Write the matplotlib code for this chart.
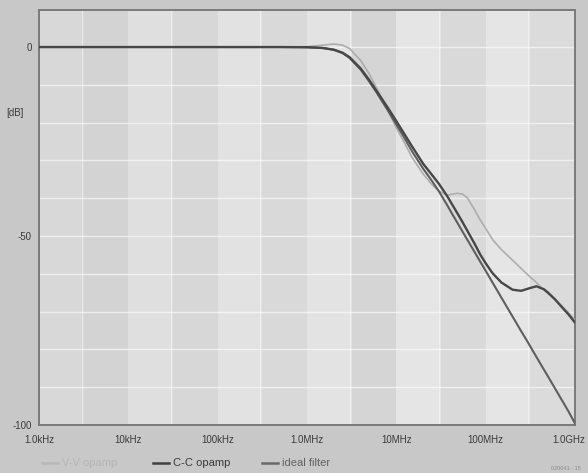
import numpy as np
import matplotlib
matplotlib.use("Agg")
import matplotlib.pyplot as plt
from matplotlib.lines import Line2D
from matplotlib.transforms import ScaledTranslation

plt.rcParams["font.family"] = ["Liberation Sans", "DejaVu Sans"]

# frequency points in MHz
freqs_mhz = [0.001, 0.01, 0.1, 0.5, 1, 1.5, 2, 2.5, 3, 4, 5, 6, 8, 10, 12, 15,
             20, 25, 30, 37, 43, 48, 55, 62, 75, 87, 100, 120, 150, 200, 250,
             300, 370, 450, 500, 600, 700, 850, 1000]

ideal_db = [0, 0, 0, 0, -0.05, -0.25, -0.75, -1.6, -2.9, -6.0, -9.2, -12.0,
            -16.7, -20.5, -23.6, -27.6, -32.2, -35.4, -38.2, -41.8, -44.5,
            -46.4, -48.8, -50.9, -54.2, -56.8, -59.2, -62.4, -66.3, -71.3,
            -75.2, -78.3, -82.0, -85.4, -87.2, -90.4, -93.1, -96.5, -99.6]

cc_db = [0, 0, 0, 0, -0.05, -0.25, -0.7, -1.5, -2.7, -5.7, -8.8, -11.6,
         -16.0, -19.6, -22.6, -26.3, -30.9, -33.8, -36.2, -39.4, -42.0,
         -43.9, -46.3, -48.5, -52.0, -54.9, -57.2, -59.9, -62.3, -64.2,
         -64.5, -63.9, -63.3, -64.1, -65.0, -66.8, -68.6, -70.8, -72.9]

vv_db = [0, 0, 0, 0, 0.1, 0.5, 0.8, 0.5, -0.4, -3.6, -7.2, -10.8, -16.6,
         -21.4, -24.8, -29.2, -33.6, -36.4, -38.1, -39.2, -38.9, -38.7,
         -38.9, -39.8, -43.0, -45.8, -48.0, -51.0, -53.6, -56.4, -58.6,
         -60.4, -62.3, -64.3, -65.3, -66.8, -68.3, -70.3, -72.3]

decades = [1e3, 1e4, 1e5, 1e6, 1e7, 1e8, 1e9]
decade_labels = ["1.0kHz", "10kHz", "100kHz", "1.0MHz", "10MHz", "100MHz", "1.0GHz"]
db_ticks = [0, -50, -100]

freqs = np.array(freqs_mhz) * 1e6

fig = plt.figure(figsize=(5.88, 4.73), dpi=100, facecolor="#c8c8c8")
ax = fig.add_axes([39 / 588, 1 - 425 / 473, 536 / 588, 415 / 473])
ax.set_xscale("log")
ax.set_xlim(1e3, 1e9)
ax.set_ylim(-100, 9.8)
ax.set_facecolor("#dadada")

# shaded decade bands like the scanned original
light = ["#d8d8d8", "#dfdfdf", "#e2e2e2", "#e3e3e3", "#e5e5e5", "#e5e5e5"]
dark = ["#d3d3d3", "#d7d7d7", "#d9d9d9", "#d5d5d5", "#d9d9d9", "#dbdbdb"]
for i in range(6):
    lo = decades[i]
    mid = lo * 10 ** 0.5
    ax.axvspan(lo, mid, color=light[i], lw=0, zorder=0)
    ax.axvspan(mid, lo * 10, color=dark[i], lw=0, zorder=0)
    ax.axvline(lo * 3, color="white", lw=0.8, alpha=0.45, zorder=1)

for y in range(0, -100, -10):
    ax.axhline(y, color="white", lw=1.0, alpha=0.6, zorder=1)

ax.plot(freqs, vv_db, color="#adadad", lw=1.2, zorder=3)
ax.plot(freqs, ideal_db, color="#5e5e5e", lw=1.5, zorder=4)
ax.plot(freqs, cc_db, color="#474747", lw=1.7, zorder=5)

for s in ax.spines.values():
    s.set_color("#7a7a7a")
    s.set_linewidth(1.4)

ax.set_xticks(decades)
ax.set_xticklabels(decade_labels)
ax.xaxis.set_minor_locator(matplotlib.ticker.NullLocator())
ax.set_yticks(db_ticks)
ax.set_yticklabels(["0", "-50", "-100"])
ax.tick_params(length=0, labelsize=7, colors="#3a3a3a")
ax.tick_params(axis="x", pad=7)
ax.tick_params(axis="y", pad=5)

# pull the last label in so it stays on the canvas
last = ax.get_xticklabels()[-1]
last.set_transform(last.get_transform() + ScaledTranslation(-0.06, 0, fig.dpi_scale_trans))

ax.text(-0.045, -17.5, "[dB]", transform=ax.get_yaxis_transform(),
        ha="center", va="center", fontsize=7, color="#3a3a3a")

# legend along the bottom
legend_items = [("V-V opamp", "#b8b8b8", "#b5b5b5", 42),
                ("C-C opamp", "#404040", "#3a3a3a", 153),
                ("ideal filter", "#6a6a6a", "#606060", 262)]
ly = 1 - 463 / 473
for label, lc, tc, x0 in legend_items:
    fig.add_artist(Line2D([x0 / 588, (x0 + 16) / 588], [ly, ly], color=lc, lw=1.8))
    fig.text((x0 + 20) / 588, ly, label, color=tc, fontsize=8, va="center")

fig.text(566 / 588, 1 - 468 / 473, "020041 - 15", fontsize=4, color="#8a8a8a",
         ha="center", va="center")

fig.savefig("out.png", dpi=100, facecolor=fig.get_facecolor())
